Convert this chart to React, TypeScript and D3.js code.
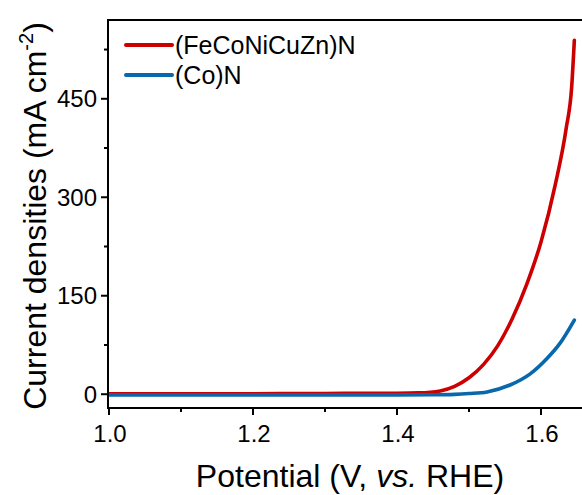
import React, { useEffect, useRef } from 'react';
import * as d3 from 'd3';

// (V vs. RHE, mA cm-2)
const redPotential = [1.0, 1.1, 1.2, 1.26, 1.3, 1.35, 1.4, 1.43, 1.46, 1.48, 1.5, 1.52, 1.54, 1.56, 1.58, 1.6, 1.62, 1.635, 1.6426, 1.6463];
const redCurrent = [0.5, 0.5, 0.6, 1.0, 1.2, 1.3, 1.5, 2, 5, 12, 25, 45, 74, 115, 167, 232, 320, 405, 468, 539];
const bluePotential = [1.0, 1.2, 1.4, 1.45, 1.48, 1.5, 1.525, 1.557, 1.585, 1.608, 1.626, 1.6463];
const blueCurrent = [-1, -1, -1, -0.8, -0.2, 1, 3.5, 14, 31, 54, 77, 113];

const seriesNames = ['(FeCoNiCuZn)N', '(Co)N'];
const seriesColors = ['#cc0000', '#0868ac'];
const xTicks = [1.0, 1.2, 1.4, 1.6];
const xMinor = [1.1, 1.3, 1.5];
const yTicks = [0, 150, 300, 450];
const yMinor = [75, 225, 375, 525];

function App() {
  const ref = useRef<SVGSVGElement>(null);
  const width = 582;
  const height = 495;
  const left = 108;
  const top = 20;
  const bottom = 408;

  useEffect(() => {
    const svg = d3.select(ref.current);
    svg.selectAll('*').remove();
    const font = "'Liberation Sans', Arial, sans-serif";

    const x = d3.scaleLinear().domain([1.0, 1.7]).range([109, 613]);
    const y = d3.scaleLinear().domain([-21, 570]).range([bottom, top]);

    const line = d3.line<[number, number]>()
      .x(d => x(d[0]))
      .y(d => y(d[1]))
      .curve(d3.curveMonotoneX);

    const series = [
      redPotential.map((v, i) => [v, redCurrent[i]] as [number, number]),
      bluePotential.map((v, i) => [v, blueCurrent[i]] as [number, number]),
    ];

    svg.append('clipPath').attr('id', 'plotclip')
      .append('rect').attr('x', left).attr('y', top).attr('width', width - left).attr('height', bottom - top);

    // red first, blue on top
    series.forEach((s, i) => {
      svg.append('path')
        .attr('d', line(s))
        .attr('fill', 'none')
        .attr('stroke', seriesColors[i])
        .attr('stroke-width', 3.6)
        .attr('stroke-linecap', 'round')
        .attr('clip-path', 'url(#plotclip)');
    });

    // frame
    svg.append('line').attr('x1', left).attr('x2', left).attr('y1', top - 1).attr('y2', bottom + 1)
      .attr('stroke', '#000').attr('stroke-width', 2);
    svg.append('line').attr('x1', left - 1).attr('x2', width).attr('y1', bottom).attr('y2', bottom)
      .attr('stroke', '#000').attr('stroke-width', 2);
    svg.append('line').attr('x1', left - 1).attr('x2', width).attr('y1', top).attr('y2', top)
      .attr('stroke', '#000').attr('stroke-width', 2);

    // x ticks
    xTicks.forEach(t => {
      svg.append('line').attr('x1', x(t)).attr('x2', x(t)).attr('y1', bottom).attr('y2', bottom + 7)
        .attr('stroke', '#000').attr('stroke-width', 2);
      svg.append('text').attr('x', x(t) + 1).attr('y', 442).attr('text-anchor', 'middle')
        .attr('font-family', font).attr('font-size', 24).attr('fill', '#000')
        .text(d3.format('.1f')(t));
    });
    xMinor.forEach(t => {
      svg.append('line').attr('x1', x(t)).attr('x2', x(t)).attr('y1', bottom).attr('y2', bottom + 4)
        .attr('stroke', '#000').attr('stroke-width', 2);
    });

    // y ticks
    yTicks.forEach(t => {
      svg.append('line').attr('x1', left - 7).attr('x2', left).attr('y1', y(t)).attr('y2', y(t))
        .attr('stroke', '#000').attr('stroke-width', 2);
      svg.append('text').attr('x', 97).attr('y', y(t)).attr('dy', '0.36em').attr('text-anchor', 'end')
        .attr('font-family', font).attr('font-size', 24).attr('fill', '#000')
        .text(String(t));
    });
    yMinor.forEach(t => {
      svg.append('line').attr('x1', left - 4).attr('x2', left).attr('y1', y(t)).attr('y2', y(t))
        .attr('stroke', '#000').attr('stroke-width', 2);
    });

    // axis titles
    const xt = svg.append('text').attr('x', 350).attr('y', 487).attr('text-anchor', 'middle')
      .attr('font-family', font).attr('font-size', 32).attr('fill', '#000');
    xt.append('tspan').text('Potential (V, ');
    xt.append('tspan').attr('font-style', 'italic').text('vs.');
    xt.append('tspan').text(' RHE)');

    const yt = svg.append('text').attr('transform', 'translate(46,216) rotate(-90)').attr('text-anchor', 'middle')
      .attr('font-family', font).attr('font-size', 32).attr('fill', '#000');
    yt.append('tspan').text('Current densities (mA cm');
    yt.append('tspan').attr('font-size', 20).attr('dy', -13).text('-2');
    yt.append('tspan').attr('dy', 13).text(')');

    // legend
    seriesNames.forEach((name, i) => {
      const ly = 45 + i * 30;
      svg.append('line').attr('x1', 126).attr('x2', 172).attr('y1', ly).attr('y2', ly)
        .attr('stroke', seriesColors[i]).attr('stroke-width', 4).attr('stroke-linecap', 'round');
      svg.append('text').attr('x', 175).attr('y', ly).attr('dy', '0.36em')
        .attr('font-family', font).attr('font-size', 25).attr('fill', '#000')
        .text(name);
    });
  }, []);

  return (
    <svg ref={ref} width={width} height={height}
      style={{ position: 'absolute', left: 0, top: 0, background: '#fff' }} />
  );
}

export default App;
